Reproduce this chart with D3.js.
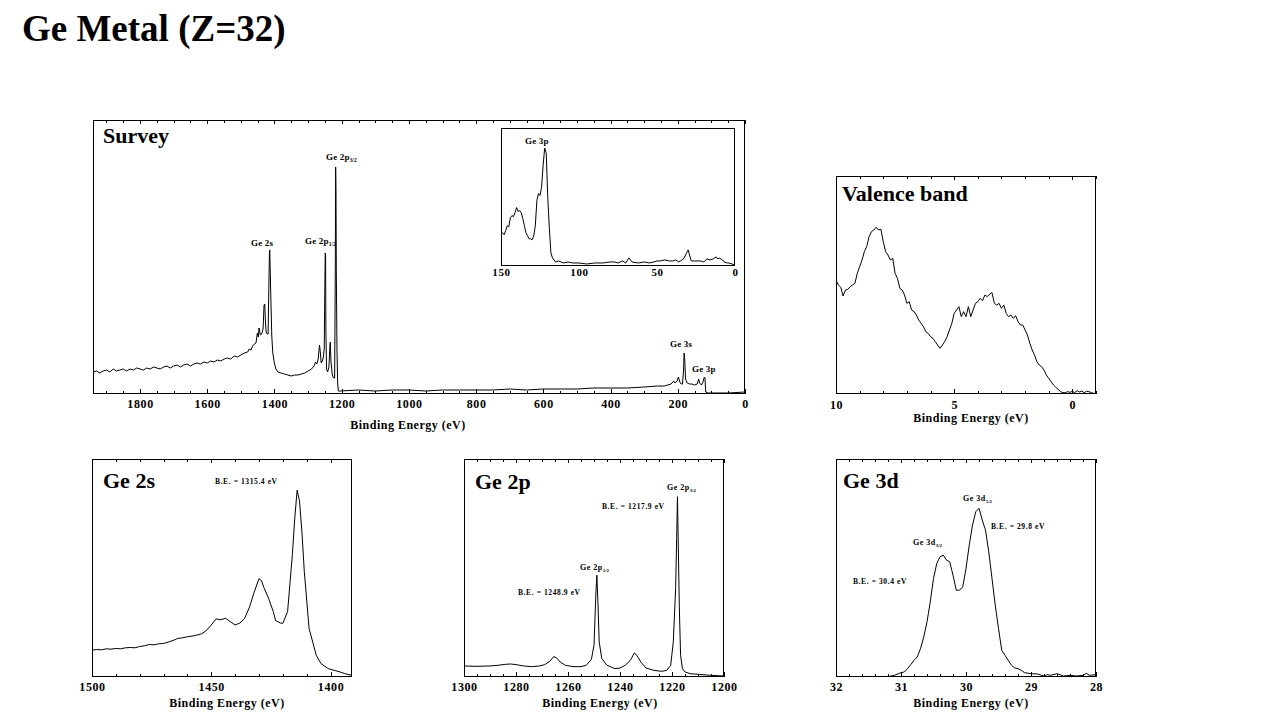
<!DOCTYPE html>
<html>
<head>
<meta charset="utf-8">
<script src="https://cdn.jsdelivr.net/npm/d3@7"></script>
<style>
  body { margin: 0; background: #fff; }
  svg text { font-family: "Liberation Serif", "Times New Roman", serif; fill: #000; }
</style>
</head>
<body>
<svg id="chart" width="1280" height="720"></svg>
<script>
// =========================
// DATA (binding energy in eV, intensity in arbitrary counts)
// =========================
const surveySpectrum = [
  [1940,19],[1930,20],[1920,18],[1910,20],[1900,21],[1890,19],[1880,22],[1870,20],[1860,21],[1850,22],
  [1840,20],[1830,22],[1820,21],[1810,23],[1800,22],[1790,21],[1780,23],[1770,22],[1760,24],[1750,23],
  [1740,22],[1730,24],[1720,25],[1710,23],[1700,25],[1690,26],[1680,24],[1670,26],[1660,27],[1650,25],
  [1640,27],[1630,28],[1620,27],[1610,29],[1600,28],[1590,30],[1580,29],[1570,31],[1560,30],[1550,32],
  [1540,33],[1530,32],[1520,35],[1510,34],[1500,36],[1490,38],[1480,39],[1475,42],[1470,41],[1465,45],
  [1460,47],[1455,48],[1451,58],[1448,54],[1446,63],[1442,56],[1438,57],[1434,62],[1431,86],[1429,87],
  [1427,70],[1425,59],[1422,57],[1419,57],[1417,100],[1415,138],[1414,141],[1413,125],[1411,95],[1408,55],
  [1405,38],[1401,29],[1396,22],[1390,19],[1380,18],[1370,17],[1360,16],[1350,15],[1340,16],[1330,16],
  [1320,17],[1310,18],[1300,20],[1290,22],[1282,25],[1278,29],[1274,27],[1270,32],[1266,46],[1264,40],
  [1261,28],[1258,30],[1255,33],[1252,42],[1250,110],[1249,138],[1248,136],[1247,60],[1245,22],[1242,19],
  [1238,24],[1235,45],[1234,49],[1232,30],[1228,16],[1224,13],[1221,13],[1219,123],[1218,224],[1217,200],
  [1216,118],[1214,40],[1212,8],[1210,0],[1205,0],[1150,1],[1100,0],[1050,1],[1000,1],[950,0],
  [900,1],[850,1],[800,1],[750,1],[700,2],[650,1],[600,2],[550,2],[500,2],[450,3],
  [400,3],[350,3],[300,4],[260,5],[240,5],[220,7],[212,10],[208,8],[202,10],[198,14],
  [194,9],[190,7],[186,7],[183,20],[181,38],[179,30],[177,12],[172,8],[165,7],[158,7],
  [150,6],[142,7],[138,12],[135,8],[130,6],[126,8],[121,14],[119,13],[117,-1],[110,-2],
  [50,-2],[0,-1]
];

const insetSpectrum = [
  [150,30],[149,31],[148,29],[147,33],[146,38],[145,37],[144,46],[143,48],[142,47],[141,51],
  [140,56],[139,52],[138,53],[137,51],[136,45],[135,38],[134,31],[133,28],[132,25],[131,25],
  [130,24],[129,28],[128,38],[127,63],[126,70],[125,68],[124,76],[123,98],[122,115],[121,110],
  [120,65],[119,35],[118,11],[117,6],[116,4],[115,2],[113,3],[110,1],[107,2],[104,1],
  [100,1],[95,0],[90,1],[85,1],[80,2],[77,2],[75,1],[72,3],[70,1],[68,6],
  [66,2],[62,1],[58,2],[55,1],[52,2],[50,3],[48,3],[45,4],[42,3],[40,3],
  [38,4],[36,2],[35,3],[33,5],[31,11],[30,14],[29,8],[28,3],[26,3],[24,3],
  [22,3],[20,2],[18,5],[16,4],[14,5],[12,7],[11,5],[10,6],[8,4],[7,2],
  [5,1],[4,1],[2,0],[0,-1]
];

const valenceSpectrum = [
  [10,335],[9.9,320],[9.8,313],[9.7,287],[9.6,305],[9.5,307],[9.4,315],[9.3,320],[9.2,325],[9.1,355],
  [9.0,375],[8.9,395],[8.8,420],[8.7,435],[8.6,465],[8.5,480],[8.4,485],[8.3,493],[8.2,485],[8.1,487],
  [8.0,450],[7.9,420],[7.8,410],[7.7,395],[7.6,400],[7.5,355],[7.4,340],[7.3,310],[7.2,305],[7.1,290],
  [7.0,265],[6.9,270],[6.8,245],[6.7,240],[6.6,230],[6.5,215],[6.4,205],[6.3,195],[6.2,180],[6.1,175],
  [6.0,165],[5.9,160],[5.8,150],[5.7,140],[5.6,130],[5.5,140],[5.4,150],[5.3,165],[5.2,185],[5.1,205],
  [5.0,235],[4.9,245],[4.8,255],[4.7,225],[4.6,240],[4.5,225],[4.4,255],[4.3,225],[4.2,245],[4.1,265],
  [4.0,270],[3.9,280],[3.8,273],[3.7,290],[3.6,285],[3.5,293],[3.4,297],[3.3,265],[3.2,260],[3.1,265],
  [3.0,250],[2.9,260],[2.8,235],[2.7,225],[2.6,230],[2.5,220],[2.4,228],[2.3,210],[2.2,200],[2.1,200],
  [2.0,185],[1.9,170],[1.8,145],[1.7,125],[1.6,110],[1.5,90],[1.4,80],[1.3,75],[1.2,65],[1.1,50],
  [1.0,40],[0.9,30],[0.8,20],[0.7,13],[0.6,7],[0.5,0],[0.4,-3],[0.3,-3],[0.2,0],[0.1,-2],
  [0.0,1],[-0.1,-3],[-0.2,3],[-0.3,-1],[-0.4,2],[-0.5,-3],[-0.6,1],[-0.7,0],[-0.8,-3],[-0.9,-5],
  [-1.0,-5]
];

const ge2sSpectrum = [
  [1500,77],[1498,79],[1496,78],[1494,81],[1492,80],[1490,82],[1488,81],[1486,84],[1484,85],[1482,84],
  [1480,88],[1478,90],[1476,94],[1474,93],[1472,96],[1470,97],[1468,101],[1466,106],[1464,112],[1462,114],
  [1460,117],[1458,119],[1456,122],[1454,126],[1452,136],[1450,152],[1448,170],[1446,168],[1444,172],[1442,162],
  [1440,152],[1438,158],[1436,172],[1434,205],[1432,250],[1430,290],[1429,285],[1428,265],[1426,232],[1424,192],
  [1423,165],[1421,158],[1420,157],[1418,192],[1416,362],[1415,470],[1414,554],[1413,522],[1412,430],[1411,312],
  [1409,142],[1406,62],[1404,37],[1401,22],[1398,16],[1396,12],[1394,7],[1391,2]
];

const ge2pSpectrum = [
  [1300,30],[1295,29],[1290,30],[1287,32],[1284,35],[1282,36],[1280,34],[1277,30],[1274,28],[1271,30],
  [1269,34],[1267,44],[1265.5,58],[1264.5,55],[1263,42],[1261,32],[1258,28],[1255,28],[1253,32],[1251,50],
  [1250,92],[1249.3,242],[1248.9,302],[1248.5,222],[1248,102],[1247,52],[1245,32],[1242,22],[1240,24],[1238,32],
  [1236,47],[1234.5,69],[1233.5,62],[1232,42],[1230,24],[1227,17],[1224,14],[1222,17],[1220.5,32],[1219.5,102],
  [1218.6,262],[1218.2,412],[1217.9,537],[1217.6,402],[1217.2,212],[1216.7,62],[1216,22],[1215,12],[1213,7],[1210,5],
  [1205,2],[1200,0]
];

const ge3dSpectrum = [
  [31.25,-2],[31.2,-2],[31.1,2],[31.05,6],[31.0,10],[30.95,12],[30.9,22],[30.85,34],[30.8,47],[30.75,57],
  [30.7,82],[30.65,117],[30.6,162],[30.55,222],[30.5,292],[30.45,337],[30.4,357],[30.35,362],[30.3,347],[30.25,342],
  [30.2,302],[30.15,257],[30.1,257],[30.05,267],[30.0,322],[29.95,392],[29.9,452],[29.85,492],[29.8,502],[29.75,467],
  [29.7,437],[29.65,372],[29.6,292],[29.55,212],[29.5,142],[29.45,77],[29.4,62],[29.35,47],[29.3,32],[29.25,24],
  [29.2,22],[29.15,17],[29.1,10],[29.0,7],[28.9,6],[28.8,0],[28.75,4],[28.7,2],[28.6,7],[28.5,0],
  [28.4,2],[28.3,0],[28.2,2],[28.15,8],[28.1,2],[28.0,4]
];

// tick labels
const surveyTicks = [1800, 1600, 1400, 1200, 1000, 800, 600, 400, 200, 0];
const insetTicks = [150, 100, 50, 0];
const valenceTicks = [10, 5, 0];
const ge2sTicks = [1500, 1450, 1400];
const ge2pTicks = [1300, 1280, 1260, 1240, 1220, 1200];
const ge3dTicks = [32, 31, 30, 29, 28];

const axisTitle = "Binding Energy (eV)";

// =========================
// SETUP
// =========================
const svg = d3.select("#chart");
const fmt = d3.format("d");

svg.append("text")
    .attr("x", 22)
    .attr("y", 41)
    .style("font-size", "37px")
    .style("font-weight", "bold")
    .text("Ge Metal (Z=32)");

function addLabel(t) {
    const txt = svg.append("text")
        .attr("x", t.x)
        .attr("y", t.y)
        .style("font-size", t.size + "px")
        .style("font-weight", "bold")
        .style("letter-spacing", (t.ls || 0) + "px")
        .text(t.text);
    if (t.sub) {
        txt.append("tspan")
            .attr("dy", t.size * 0.25)
            .style("font-size", (t.size * 0.62) + "px")
            .style("letter-spacing", "0px")
            .text(t.sub);
    }
}

// =========================
// PANEL
// =========================
function drawPanel(p) {
    const x = d3.scaleLinear().domain(p.xDomain).range([p.left, p.right]);
    const y = d3.scaleLinear().domain(p.yDomain).range([p.bottom, p.top]);

    const g = svg.append("g");

    g.append("clipPath")
        .attr("id", "clip-" + p.id)
        .append("rect")
        .attr("x", p.left)
        .attr("y", p.top)
        .attr("width", p.right - p.left)
        .attr("height", p.bottom - p.top);

    // white backing (inset sits over the survey)
    g.append("rect")
        .attr("x", p.left)
        .attr("y", p.top)
        .attr("width", p.right - p.left)
        .attr("height", p.bottom - p.top)
        .attr("fill", "#fff");

    const line = d3.line()
        .x(d => x(d[0]))
        .y(d => y(d[1]));

    g.append("path")
        .datum(p.data)
        .attr("clip-path", `url(#clip-${p.id})`)
        .attr("fill", "none")
        .attr("stroke", "#000")
        .attr("stroke-width", 1)
        .attr("stroke-linejoin", "round")
        .attr("d", line);

    // minor ticks, bottom and top, pointing in
    if (p.minor) {
        g.append("g")
            .attr("transform", `translate(0,${p.bottom})`)
            .call(d3.axisBottom(x).tickValues(p.minor).tickSize(-3).tickFormat(""));
        g.append("g")
            .attr("transform", `translate(0,${p.top})`)
            .call(d3.axisTop(x).tickValues(p.minor).tickSize(-3).tickFormat(""));
        g.append("g")
            .attr("transform", `translate(0,${p.top})`)
            .call(d3.axisTop(x).tickValues(p.ticks).tickSize(-4).tickFormat(""));
    }

    // major ticks + labels
    const ax = g.append("g")
        .attr("transform", `translate(0,${p.bottom})`)
        .call(d3.axisBottom(x)
            .tickValues(p.ticks)
            .tickSize(p.minor ? -5 : 0)
            .tickPadding(p.pad)
            .tickFormat(fmt));

    ax.selectAll("text")
        .attr("font-size", null)
        .style("font-size", p.tickSize + "px")
        .style("font-weight", "bold")
        .style("letter-spacing", "0.6px");

    g.selectAll(".domain").remove();
    g.selectAll(".tick line").attr("stroke", "#000").attr("shape-rendering", "crispEdges");

    // frame
    g.append("rect")
        .attr("x", p.left + 0.5)
        .attr("y", p.top + 0.5)
        .attr("width", p.right - p.left - 1)
        .attr("height", p.bottom - p.top - 1)
        .attr("fill", "none")
        .attr("stroke", "#000")
        .attr("stroke-width", 1)
        .attr("shape-rendering", "crispEdges");

    if (p.axisTitleY) {
        g.append("text")
            .attr("x", p.axisTitleX)
            .attr("y", p.axisTitleY)
            .attr("text-anchor", "middle")
            .style("font-size", "12px")
            .style("font-weight", "bold")
            .style("letter-spacing", "0.5px")
            .text(axisTitle);
    }

    (p.labels || []).forEach(addLabel);
}

// =========================
// PANELS
// =========================
drawPanel({
    id: "survey", left: 93, right: 745, top: 120, bottom: 394,
    xDomain: [1940, 0], yDomain: [-3, 271],
    data: surveySpectrum, ticks: surveyTicks, minor: d3.range(0, 1950, 50),
    pad: 5, tickSize: 12, axisTitleX: 408, axisTitleY: 429,
    labels: [
        { text: "Survey", x: 103, y: 143, size: 22 },
        { text: "Ge 2s", x: 251, y: 246, size: 9, ls: 0.2 },
        { text: "Ge 2p", sub: "1/2", x: 305, y: 244, size: 9, ls: 0.2 },
        { text: "Ge 2p", sub: "3/2", x: 326, y: 160, size: 9, ls: 0.2 },
        { text: "Ge 3s", x: 670, y: 347, size: 9, ls: 0.2 },
        { text: "Ge 3p", x: 692, y: 372, size: 9, ls: 0.2 }
    ]
});

drawPanel({
    id: "inset", left: 501, right: 735, top: 128, bottom: 266,
    xDomain: [150, 0], yDomain: [-2, 135],
    data: insetSpectrum, ticks: insetTicks, minor: null,
    pad: 2, tickSize: 11,
    labels: [
        { text: "Ge 3p", x: 525, y: 144, size: 9, ls: 0.2 }
    ]
});

drawPanel({
    id: "valence", left: 836, right: 1096, top: 176, bottom: 394,
    xDomain: [10, -1], yDomain: [-7, 647],
    data: valenceSpectrum, ticks: valenceTicks, minor: d3.range(-1, 11, 1),
    pad: 6, tickSize: 12, axisTitleX: 971, axisTitleY: 422,
    labels: [
        { text: "Valence band", x: 842, y: 201, size: 22 }
    ]
});

drawPanel({
    id: "ge2s", left: 92, right: 352, top: 459, bottom: 677,
    xDomain: [1500, 1391], yDomain: [-3, 647],
    data: ge2sSpectrum, ticks: ge2sTicks, minor: d3.range(1400, 1501, 10),
    pad: 5, tickSize: 12, axisTitleX: 227, axisTitleY: 707,
    labels: [
        { text: "Ge 2s", x: 103, y: 488, size: 22 },
        { text: "B.E. = 1315.4 eV", x: 215, y: 484, size: 7.5, ls: 0.6 }
    ]
});

drawPanel({
    id: "ge2p", left: 464, right: 724, top: 459, bottom: 677,
    xDomain: [1300, 1200], yDomain: [-3, 650],
    data: ge2pSpectrum, ticks: ge2pTicks, minor: d3.range(1200, 1301, 5),
    pad: 5, tickSize: 12, axisTitleX: 600, axisTitleY: 707,
    labels: [
        { text: "Ge 2p", x: 475, y: 489, size: 22 },
        { text: "Ge 2p", sub: "3/2", x: 667, y: 490, size: 8, ls: 0.5 },
        { text: "B.E. = 1217.9 eV", x: 602, y: 509, size: 7.5, ls: 0.6 },
        { text: "Ge 2p", sub: "1/2", x: 580, y: 570, size: 8, ls: 0.5 },
        { text: "B.E. = 1248.9 eV", x: 518, y: 595, size: 7.5, ls: 0.6 }
    ]
});

drawPanel({
    id: "ge3d", left: 836, right: 1096, top: 459, bottom: 677,
    xDomain: [32, 28], yDomain: [-3, 650],
    data: ge3dSpectrum, ticks: ge3dTicks, minor: d3.range(28, 32.01, 0.2),
    pad: 5, tickSize: 12, axisTitleX: 971, axisTitleY: 707,
    labels: [
        { text: "Ge 3d", x: 843, y: 488, size: 22 },
        { text: "Ge 3d", sub: "5/2", x: 963, y: 501, size: 8, ls: 0.5 },
        { text: "B.E. = 29.8 eV", x: 991, y: 529, size: 7.5, ls: 0.6 },
        { text: "Ge 3d", sub: "3/2", x: 913, y: 545, size: 8, ls: 0.5 },
        { text: "B.E. = 30.4 eV", x: 853, y: 584, size: 7.5, ls: 0.6 }
    ]
});
</script>
</body>
</html>
